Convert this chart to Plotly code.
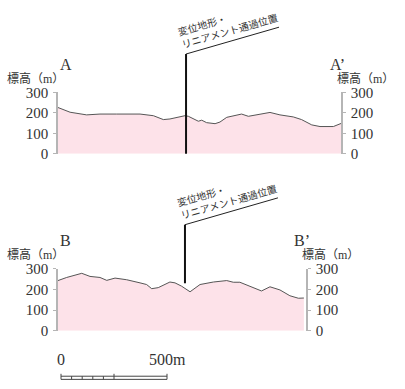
import plotly.graph_objects as go

# 断面 A-A'  (距離 m, 標高 m)
dist_a = [0, 57, 135, 198, 277, 387, 450, 497, 528, 599, 615, 646, 662, 678, 701,
          741, 764, 796, 843, 866, 898, 937, 1000, 1047, 1110, 1149, 1197, 1236, 1299, 1335]
elev_a = [226, 203, 190, 194, 194, 194, 186, 167, 170, 186, 183, 167, 159, 164, 152,
          147, 155, 178, 190, 194, 183, 190, 202, 190, 180, 167, 141, 133, 133, 148]

# 断面 B-B'
dist_b = [0, 41, 112, 151, 198, 230, 269, 324, 387, 418, 442, 473, 528, 552, 583,
          623, 670, 733, 796, 827, 858, 921, 960, 1000, 1047, 1094, 1134, 1160]
elev_b = [242, 257, 277, 262, 257, 243, 254, 246, 231, 223, 203, 208, 235, 231, 215,
          188, 223, 235, 242, 234, 234, 208, 192, 212, 197, 169, 157, 158]

fault_a = 604   # 変位地形・リニアメント通過位置 (m)
fault_b = 599
tick_vals = [0, 100, 200, 300]
scale_ticks = [0, 50, 100, 150, 200, 250, 500]

W, H = 405, 389
def px(x): return x / W
def py(y): return 1 - y / H

# panel geometry in pixels: left, right, base(0m), top(300m), xmax(m)
top = dict(l=58, r=341, b=152, t=88, xmax=1335)
bot = dict(l=58, r=306, b=336.7, t=271.7, xmax=1170)

def mx(p, m): return p["l"] + m / p["xmax"] * (p["r"] - p["l"])
def my(p, v): return p["b"] - v / 300 * (p["b"] - p["t"])

serif = "Liberation Serif, Noto Sans CJK JP"
jp = "Noto Sans CJK JP"
txt = "#333333"
pink = "#fde2e9"
axcol = "#b5b5b5"

fig = go.Figure()
fig.add_trace(go.Scatter(x=dist_a, y=elev_a, fill="tozeroy", fillcolor=pink, mode="lines",
                         line=dict(color="#555555", width=1), xaxis="x", yaxis="y", hoverinfo="skip"))
fig.add_trace(go.Scatter(x=dist_b, y=elev_b, fill="tozeroy", fillcolor=pink, mode="lines",
                         line=dict(color="#555555", width=1), xaxis="x2", yaxis="y2", hoverinfo="skip"))
fig.add_trace(go.Scatter(x=[0], y=[0], mode="none", xaxis="x", yaxis="y3", hoverinfo="skip"))
fig.add_trace(go.Scatter(x=[0], y=[0], mode="none", xaxis="x2", yaxis="y4", hoverinfo="skip"))

yax = dict(range=[0, 300], tickvals=tick_vals, showgrid=False, zeroline=False, showline=True,
           linecolor=axcol, linewidth=1.5, ticks="outside", ticklen=3, tickcolor=axcol,
           tickfont=dict(family=serif, size=15, color=txt), ticklabelstandoff=2, fixedrange=True)

fig.update_layout(
    width=W, height=H, margin=dict(l=0, r=0, t=0, b=0),
    paper_bgcolor="white", plot_bgcolor="white", showlegend=False,
    xaxis=dict(domain=[px(top["l"]), px(top["r"])], range=[0, top["xmax"]], visible=False, anchor="y"),
    xaxis2=dict(domain=[px(bot["l"]), px(bot["r"])], range=[0, bot["xmax"]], visible=False, anchor="y2"),
    yaxis=dict(domain=[py(top["b"]), py(top["t"])], anchor="x", side="left", **yax),
    yaxis3=dict(overlaying="y", anchor="x", side="right", **yax),
    yaxis2=dict(domain=[py(bot["b"]), py(bot["t"])], anchor="x2", side="left", **yax),
    yaxis4=dict(overlaying="y2", anchor="x2", side="right", **yax),
)

shapes = []
anns = []
for p, f, y_low, yc, lab, labx, ryl in [
        (top, fault_a, 0, 0, "A", 66, 365),
        (bot, fault_b, 229, 178, "B", 65, 330)]:
    fxp = mx(p, f)
    ytop = 48 + yc
    # 断層位置の縦線と引出線
    shapes.append(dict(type="line", xref="paper", yref="paper", x0=px(fxp), x1=px(fxp),
                       y0=py(my(p, y_low)), y1=py(ytop), line=dict(color="#111111", width=2)))
    shapes.append(dict(type="line", xref="paper", yref="paper", x0=px(fxp), x1=px(fxp + 93),
                       y0=py(ytop), y1=py(ytop - 28), line=dict(color="#222222", width=1)))
    anns.append(dict(x=px(fxp + 42), y=py(17 + yc), xref="paper", yref="paper", showarrow=False,
                     text="変位地形・<br>リニアメント通過位置", textangle=-16, align="left",
                     xanchor="center", yanchor="middle", font=dict(family=jp, size=10, color=txt)))
    anns.append(dict(x=px(labx), y=py(my(p, 300) - 29), xref="paper", yref="paper", showarrow=False,
                     text=lab, xanchor="center", yanchor="middle",
                     font=dict(family=serif, size=16, color=txt)))
    anns.append(dict(x=px(mx(p, p["xmax"]) - 4), y=py(my(p, 300) - 29), xref="paper", yref="paper",
                     showarrow=False, text=lab + "’", xanchor="center", yanchor="middle",
                     font=dict(family=serif, size=16, color=txt)))
    anns.append(dict(x=px(35), y=py(my(p, 300) - 14), xref="paper", yref="paper", showarrow=False,
                     text="標高（m）", xanchor="center", yanchor="middle",
                     font=dict(family=serif, size=12, color=txt)))
    anns.append(dict(x=px(ryl), y=py(my(p, 300) - 14), xref="paper", yref="paper", showarrow=False,
                     text="標高（m）", xanchor="center", yanchor="middle",
                     font=dict(family=serif, size=12, color=txt)))

# scale bar (500 m)
s0 = 61
spx = 106 / 500
for yb in [384, 387.3]:
    shapes.append(dict(type="line", xref="paper", yref="paper", x0=px(s0), x1=px(s0 + 500 * spx),
                       y0=py(yb), y1=py(yb), line=dict(color="#444444", width=1)))
for t in scale_ticks:
    ytop = 381.5 if t in (0, 250, 500) else 384
    shapes.append(dict(type="line", xref="paper", yref="paper", x0=px(s0 + t * spx), x1=px(s0 + t * spx),
                       y0=py(ytop), y1=py(387.3), line=dict(color="#444444", width=1)))
anns.append(dict(x=px(s0), y=py(367), xref="paper", yref="paper", showarrow=False, text="0",
                 xanchor="center", yanchor="middle", font=dict(family=serif, size=16, color=txt)))
anns.append(dict(x=px(s0 + 500 * spx), y=py(367), xref="paper", yref="paper", showarrow=False, text="500m",
                 xanchor="center", yanchor="middle", font=dict(family=serif, size=16, color=txt)))

fig.update_layout(shapes=shapes, annotations=anns)
fig.write_html("out.html", config={"displayModeBar": False},
               post_script="document.body.style.margin='0';")
